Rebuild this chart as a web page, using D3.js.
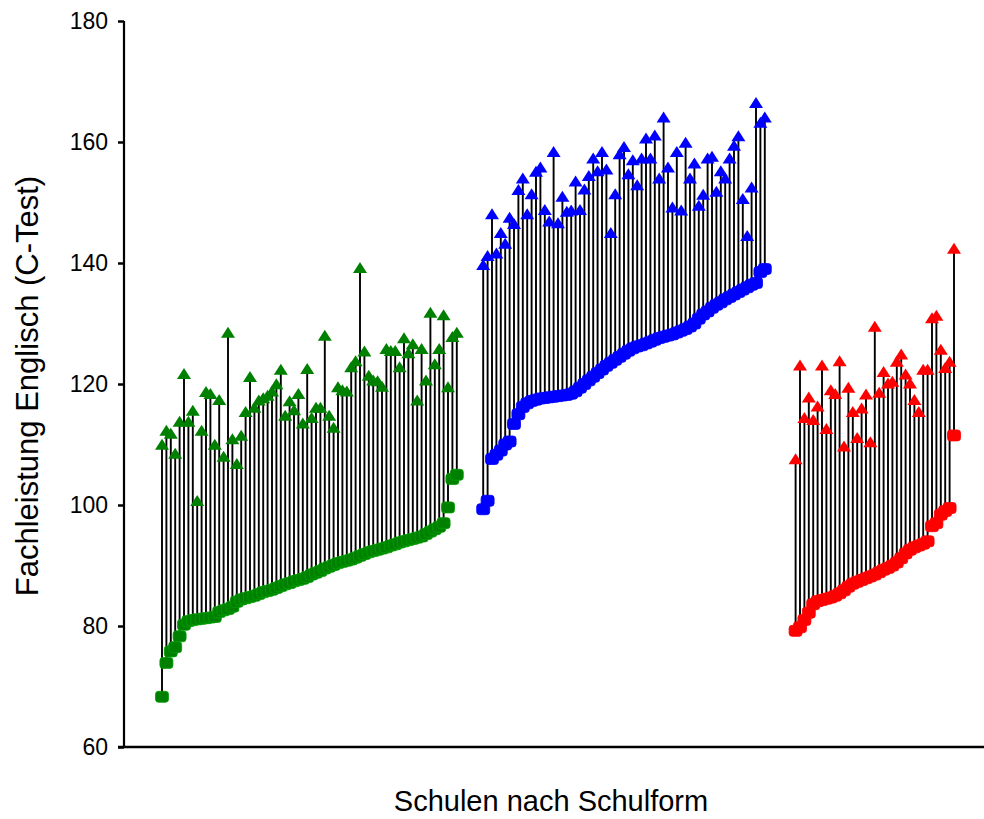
<!DOCTYPE html>
<html>
<head>
<meta charset="utf-8">
<script src="https://cdn.jsdelivr.net/npm/d3@7"></script>
<style>
  body { margin: 0; background: #fff; }
  svg { display: block; font-family: Arial, "Liberation Sans", sans-serif; }
</style>
</head>
<body>
<svg width="984" height="819"></svg>
<script>
// values per school, low = square marker (sorted), high = triangle marker
const greenLow = [68.3, 73.9, 75.8, 76.5, 78.3, 80.2, 80.8, 81.0, 81.1, 81.2, 81.3, 81.4, 81.5, 82.3, 82.6, 82.8, 83.2, 84.0, 84.4, 84.6,
  84.8, 85.0, 85.3, 85.6, 85.8, 86.0, 86.3, 86.6, 86.9, 87.1, 87.4, 87.6, 87.8, 88.1, 88.5, 88.8, 89.1, 89.5, 89.8, 90.1,
  90.4, 90.6, 90.8, 91.0, 91.3, 91.6, 91.9, 92.2, 92.4, 92.6, 92.8, 93.0, 93.3, 93.5, 93.8, 94.0, 94.2, 94.4, 94.6, 94.8,
  95.2, 95.6, 96.0, 96.4, 97.0, 99.6, 104.3, 105.0];
const greenHigh = [109.8, 112.1, 111.6, 108.3, 113.6, 121.5, 113.6, 115.4, 100.5, 112.1, 118.5, 118.2, 109.8, 117.2, 107.8, 128.3, 110.7, 106.6, 111.3, 115.2,
  121.0, 115.9, 117.1, 117.5, 117.9, 118.6, 119.8, 122.2, 114.6, 117.0, 115.5, 118.2, 113.3, 122.3, 114.2, 115.9, 115.9, 127.8, 114.6, 112.6,
  119.3, 118.8, 118.6, 122.6, 123.6, 139.0, 125.2, 121.2, 120.4, 120.3, 119.4, 125.6, 125.3, 125.3, 122.6, 127.4, 124.9, 126.4, 117.1, 125.6,
  120.4, 131.6, 123.1, 125.6, 131.2, 119.3, 127.6, 128.3];

const blueLow = [99.3, 100.7, 107.6, 108.3, 109.0, 110.0, 110.5, 113.4, 115.0, 116.2, 116.8, 117.2, 117.4, 117.6, 117.7, 117.8, 117.9, 118.0, 118.1, 118.2,
  118.4, 118.8, 119.4, 120.0, 120.6, 121.2, 121.8, 122.4, 123.0, 123.5, 124.0, 124.5, 125.0, 125.5, 125.9, 126.2, 126.4, 126.7, 127.0, 127.3,
  127.6, 127.8, 128.0, 128.2, 128.5, 128.8, 129.1, 129.5, 130.0, 130.8, 131.5, 132.0, 132.6, 133.1, 133.5, 134.0, 134.4, 134.8, 135.2, 135.6,
  136.0, 136.4, 136.7, 138.5, 139.0];
const blueHigh = [139.5, 141.0, 147.9, 141.4, 144.8, 143.0, 147.3, 146.3, 151.9, 153.8, 147.9, 151.2, 154.9, 155.6, 148.6, 146.7, 158.2, 146.4, 150.8, 148.3,
  148.5, 153.3, 148.6, 152.0, 154.2, 157.1, 155.0, 158.2, 155.3, 144.8, 151.2, 157.8, 159.0, 154.5, 156.8, 152.7, 157.1, 160.4, 157.1, 160.9,
  153.8, 163.9, 155.6, 149.0, 158.2, 148.5, 159.7, 153.8, 156.3, 149.3, 151.1, 157.1, 157.4, 151.6, 155.0, 153.8, 157.1, 159.2, 160.8, 150.4,
  144.3, 152.3, 166.3, 163.0, 163.9];

const redLow = [79.2, 79.8, 81.0, 82.2, 83.6, 84.1, 84.3, 84.5, 84.7, 85.0, 85.4, 85.9, 86.5, 87.0, 87.3, 87.6, 87.9, 88.2, 88.5, 88.9,
  89.3, 89.6, 90.0, 90.5, 91.2, 92.0, 92.6, 93.0, 93.3, 93.6, 94.0, 96.5, 97.0, 98.4, 99.0, 99.5, 111.5];
const redHigh = [107.4, 122.9, 114.2, 117.6, 113.9, 116.1, 122.9, 112.4, 118.8, 118.2, 123.6, 109.5, 119.2, 115.2, 110.9, 115.8, 118.1, 110.2, 129.3, 118.4,
  121.8, 119.9, 120.2, 123.5, 124.7, 121.4, 119.9, 117.2, 115.2, 122.2, 122.2, 130.7, 131.1, 125.5, 122.5, 123.5, 142.2];

const yTicks = [60, 80, 100, 120, 140, 160, 180];
const yLabel = "Fachleistung Englisch (C-Test)";
const xLabel = "Schulen nach Schulform";

const groups = [
  { low: greenLow, high: greenHigh, color: "#008000" },
  { low: blueLow, high: blueHigh, color: "#0000ff" },
  { low: redLow, high: redHigh, color: "#ff0000" },
];

const svg = d3.select("svg");
const axisLeft = 124, axisRight = 984, plotTop = 21, plotBottom = 747;
const gapSlots = [0, 5, 6];

// lay the schools out on one running index, leaving empty slots between groups
const points = [];
let slot = 0;
groups.forEach((g, gi) => {
  slot += gapSlots[gi];
  g.low.forEach((lo, i) => {
    points.push({ idx: slot, low: lo, high: g.high[i], color: g.color });
    slot += 1;
  });
});

const x = d3.scaleLinear().domain([0, slot - 1]).range([162, 954]);
const y = d3.scaleLinear().domain([60, 180]).range([plotBottom, plotTop]);

// axes
const yAxis = svg.append("g")
  .attr("transform", `translate(${axisLeft},0)`)
  .call(d3.axisLeft(y).tickValues(yTicks).tickSize(6).tickPadding(10));
yAxis.select(".domain").attr("stroke", "#000").attr("stroke-width", 2.2)
  .attr("d", `M0,${plotTop}V${plotBottom}`);
yAxis.selectAll(".tick line").attr("stroke", "#000").attr("stroke-width", 2.5);
yAxis.selectAll(".tick text").attr("fill", "#000").attr("font-size", 23);

svg.append("line")
  .attr("x1", axisLeft - 6).attr("x2", axisRight)
  .attr("y1", plotBottom).attr("y2", plotBottom)
  .attr("stroke", "#000").attr("stroke-width", 2.5);

// stems
svg.append("g").selectAll("line").data(points).join("line")
  .attr("x1", d => x(d.idx)).attr("x2", d => x(d.idx))
  .attr("y1", d => y(d.low)).attr("y2", d => y(d.high))
  .attr("stroke", "#000").attr("stroke-width", 1.9);

// low markers
svg.append("g").selectAll("rect").data(points).join("rect")
  .attr("x", d => x(d.idx) - 6.5).attr("y", d => y(d.low) - 5.5)
  .attr("width", 13).attr("height", 11).attr("rx", 3)
  .attr("fill", d => d.color)
  .attr("stroke", d => d3.color(d.color).brighter(0.6)).attr("stroke-width", 0.8);

// high markers
const tri = "M0,-7L7,4L-7,4Z";
svg.append("g").selectAll("path").data(points).join("path")
  .attr("transform", d => `translate(${x(d.idx)},${y(d.high)})`)
  .attr("d", tri)
  .attr("fill", d => d.color);

// axis titles
svg.append("text")
  .attr("transform", `translate(38,${(plotTop + plotBottom) / 2 + 2}) rotate(-90)`)
  .attr("text-anchor", "middle")
  .attr("font-size", 31)
  .text(yLabel);

svg.append("text")
  .attr("x", 551).attr("y", 811)
  .attr("text-anchor", "middle")
  .attr("font-size", 29)
  .text(xLabel);
</script>
</body>
</html>
